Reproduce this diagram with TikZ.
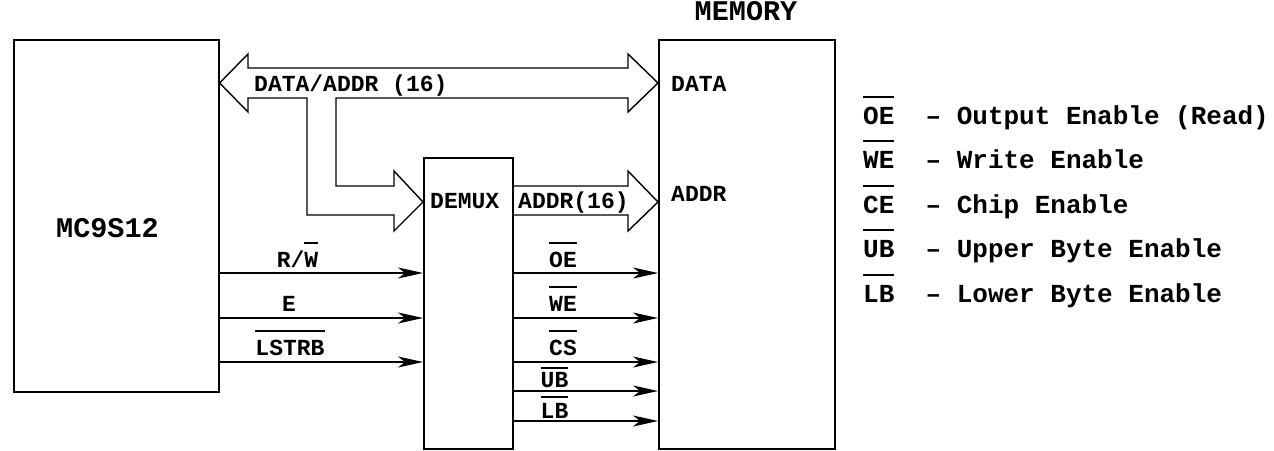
\documentclass[tikz,border=0pt]{standalone}
\usepackage{fontspec}
\newfontfamily\cour{Liberation Mono}
\usetikzlibrary{arrows.meta,calc}
\newcommand\ovl[2][8pt]{\vbox{\hrule height 1.5pt\kern#1\hbox{#2}}}
\tikzset{
  box/.style={draw, line width=1.6pt, anchor=north west, inner sep=0pt},
  lbl/.style={anchor=base, inner sep=0pt, font=\cour\bfseries\fontsize{23pt}{25pt}\selectfont},
  lblw/.style={anchor=base west, inner sep=0pt, font=\cour\bfseries\fontsize{23pt}{25pt}\selectfont},
  big/.style={anchor=base, inner sep=0pt, font=\cour\bfseries\fontsize{28.5pt}{30pt}\selectfont},
  legend/.style={anchor=base west, inner sep=0pt, font=\cour\bfseries\fontsize{26pt}{28pt}\selectfont},
  sig/.style={line width=1.6pt, -{Stealth[length=25pt,width=11pt,inset=7pt]}},
  bus/.style={line width=1.4pt, line join=miter},
}
\begin{document}
\begin{tikzpicture}[x=1pt,y=-1pt]
\useasboundingbox (0,0) rectangle (1274,450);
% boxes
\node[box, minimum width=205pt, minimum height=352pt] (mc) at (13,39) {};
\node[box, minimum width=89pt, minimum height=291pt] (demux) at (423,157) {};
\node[box, minimum width=176pt, minimum height=409pt] (mem) at (658,39) {};
% box labels
\node[big] (mclbl) at (107.5,237) {MC9S12};
\node[big] (memlbl) at (746,20.5) {MEMORY};
\node[lblw] (dmxlbl) at (430,208) {DEMUX};
\node[lblw] (datalbl) at (671,91.5) {DATA};
\node[lblw] (addrlbl) at (671,201.5) {ADDR};
% bus
\coordinate (busL) at (mc.north east |- 0,83);
\coordinate (busR) at (mem.north west |- 0,83);
\coordinate (dmxin) at (demux.north west |- 0,202);
\coordinate (addrtip) at (mem.north west |- 0,202);
\draw[bus] (busL) -- (248,54) -- (248,68) -- (628,68) -- (628,54) -- (busR)
  -- (628,112) -- (628,98) -- (336,98) -- (336,186) -- (394,186) -- (394,171)
  -- (dmxin) -- (394,231) -- (394,215) -- (307,215) -- (307,98) -- (248,98)
  -- (248,112) -- cycle;
\node[lblw] (buslbl) at (254,91.5) {DATA/ADDR (16)};
\draw[bus] (demux.north east |- 0,186) -- (628,186) -- (628,171) -- (addrtip)
  -- (628,231) -- (628,215) -- (demux.north east |- 0,215);
\node[lblw] (addr16) at (518,208) {ADDR(16)};
% left signals
\draw[sig] (mc.north east |- 0,273) -- (demux.north west |- 0,273);
\draw[sig] (mc.north east |- 0,318) -- (demux.north west |- 0,318);
\draw[sig] (mc.north east |- 0,362) -- (demux.north west |- 0,362);
\node[lbl] (rw) at (297.5,267) {R/\ovl{W}};
\node[lbl] (e) at (289,311) {E};
\node[lbl] (lstrb) at (290,355) {\ovl{LSTRB}};
% right signals
\draw[sig] (demux.north east |- 0,273) -- (mem.north west |- 0,273);
\draw[sig] (demux.north east |- 0,318) -- (mem.north west |- 0,318);
\draw[sig] (demux.north east |- 0,362) -- (mem.north west |- 0,362);
\draw[sig] (demux.north east |- 0,391) -- (mem.north west |- 0,391);
\draw[sig] (demux.north east |- 0,421) -- (mem.north west |- 0,421);
\node[lbl] (oe) at (563,267) {\ovl{OE}};
\node[lbl] (we) at (563,311) {\ovl{WE}};
\node[lbl] (cs) at (563,355) {\ovl{CS}};
\node[lbl] (ub) at (554.5,387) {\ovl[3pt]{UB}};
\node[lbl] (lb) at (554.5,418) {\ovl[5pt]{LB}};
% legend
\node[legend] (l1) at (863,124) {\ovl[9pt]{OE}\ \ – Output Enable (Read)};
\node[legend] (l2) at (863,168) {\ovl[9pt]{WE}\ \ – Write Enable};
\node[legend] (l3) at (863,213) {\ovl[9pt]{CE}\ \ – Chip Enable};
\node[legend] (l4) at (863,257) {\ovl[9pt]{UB}\ \ – Upper Byte Enable};
\node[legend] (l5) at (863,302) {\ovl[9pt]{LB}\ \ – Lower Byte Enable};
\end{tikzpicture}
\end{document}
